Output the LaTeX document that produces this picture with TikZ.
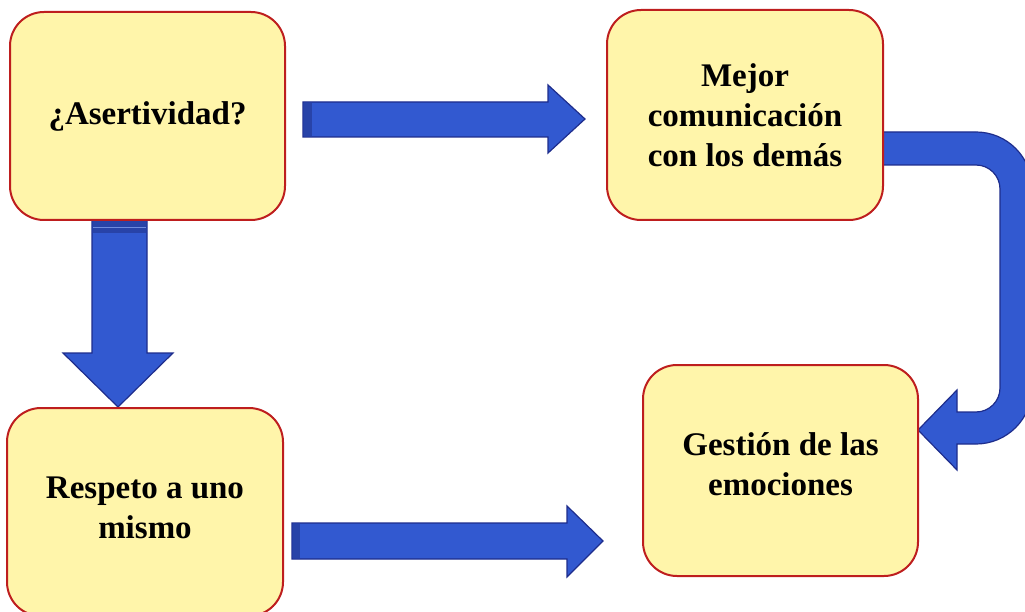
\documentclass[tikz,border=0pt]{standalone}
\usepackage{fontspec}
\setmainfont{Liberation Serif}
\definecolor{boxfill}{HTML}{FFF5AA}
\definecolor{boxline}{HTML}{BE1E1E}
\definecolor{arrfill}{HTML}{3259D0}
\definecolor{arrline}{HTML}{1E2D8C}
\definecolor{arrdark}{HTML}{2843A8}
\begin{document}
\begin{tikzpicture}[x=1pt,y=1pt,
  box/.style={draw=boxline, line width=2pt, fill=boxfill, rounded corners=34pt,
    minimum width=275pt, minimum height=208pt, align=center, inner sep=0pt,
    font=\fontsize{33}{40}\selectfont\bfseries},
  blockarrow/.style={fill=arrfill, draw=arrline, line width=1.2pt, line join=miter}]
\useasboundingbox (0,0) rectangle (1025,-612);
\clip (0,0) rectangle (1025,-612);

% arrows (drawn first so boxes sit on top)
\draw[blockarrow] (92,-217) -- (147,-217) -- (147,-353) -- (173,-353) -- (118,-407) -- (63,-353) -- (92,-353) -- cycle;
\fill[arrdark] (92.6,-218) rectangle (146.4,-233);
\draw[arrfill!70!white, line width=0.8pt] (93,-227) -- (146,-227);

\draw[blockarrow] (303,-102) -- (548,-102) -- (548,-85) -- (585,-119) -- (548,-153) -- (548,-137) -- (303,-137) -- cycle;
\fill[arrdark] (303.6,-102.6) rectangle (312,-136.4);

\draw[blockarrow] (292,-523) -- (567,-523) -- (567,-506) -- (603,-541) -- (567,-577) -- (567,-559) -- (292,-559) -- cycle;
\fill[arrdark] (292.6,-523.6) rectangle (300,-558.4);

\draw[blockarrow] (878,-132) -- (976,-132) arc[start angle=90, end angle=0, radius=56]
  -- (1032,-388) arc[start angle=0, end angle=-90, radius=56]
  -- (957,-444) -- (957,-470) -- (918,-430) -- (957,-390) -- (957,-412) -- (976,-412)
  arc[start angle=-90, end angle=0, radius=24]
  -- (1000,-189) arc[start angle=0, end angle=90, radius=24]
  -- (878,-165) -- cycle;

% boxes
\node[box] (a) at (147.5,-116) {¿Asertividad?};
\node[box, minimum width=276pt, minimum height=210pt] (b) at (745,-115) {Mejor\\comunicación\\con los demás};
\node[box, minimum width=276pt, text depth=8pt] (c) at (145,-512) {Respeto a uno\\mismo};
\node[box, minimum height=211pt, text depth=12pt] (d) at (780.5,-470.5) {Gestión de las\\emociones};
\end{tikzpicture}
\end{document}
